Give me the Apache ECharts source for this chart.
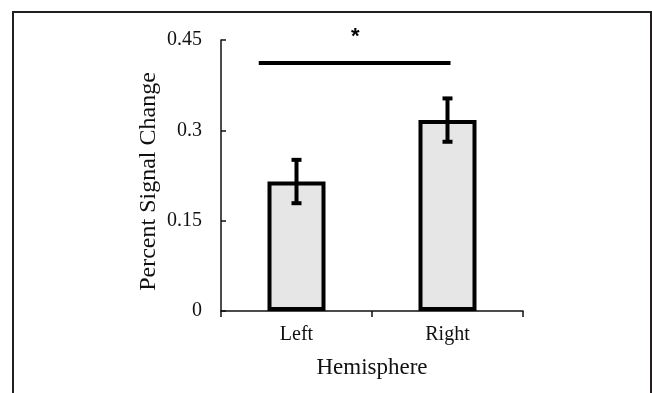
<!DOCTYPE html>
<html>
<head>
<meta charset="utf-8">
<script src="https://cdn.jsdelivr.net/npm/echarts@6/dist/echarts.min.js"></script>
<style>
  html, body { margin: 0; padding: 0; background: #fff; }
  #wrap { position: relative; width: 652px; height: 393px; overflow: hidden; }
  #chart { position: absolute; left: 0; top: 0; width: 652px; height: 393px; }
  #frame { position: absolute; left: 12px; top: 11px; width: 636px; height: 400px;
           border: 2px solid #231f20; border-bottom: none; pointer-events: none; }
</style>
</head>
<body>
<div id="wrap">
  <div id="chart"></div>
  <div id="frame"></div>
</div>
<script>
// data
const categories = ['Left', 'Right'];
const meanValues = [0.215, 0.317];
const errorValues = [0.036, 0.036];
const yTicks = [0, 0.15, 0.3, 0.45];
// significance bracket, in category-band units (0..2) and y value
const sigSpan = [0.25, 1.52];
const sigLevel = 0.412;
const sigMark = '*';
const sigMarkPos = [0.89, 0.455];

const font = '"Liberation Serif", "Times New Roman", serif';
const ink = '#111';

const chart = echarts.init(document.getElementById('chart'), null, { renderer: 'canvas' });

const option = {
  animation: false,
  grid: { left: 221, right: 129, top: 40, bottom: 82 },
  xAxis: [
    {
      type: 'category',
      data: categories,
      name: 'Hemisphere',
      nameLocation: 'middle',
      nameGap: 45,
      nameTextStyle: { fontFamily: font, fontSize: 23, color: ink },
      axisLine: { lineStyle: { color: ink, width: 1.5 } },
      axisTick: { show: true, length: 6, lineStyle: { color: ink, width: 1.5 } },
      axisLabel: { fontFamily: font, fontSize: 20, color: ink, margin: 14 }
    },
    {
      type: 'value',
      min: 0,
      max: 2,
      show: false
    }
  ],
  yAxis: {
    type: 'value',
    min: 0,
    max: 0.45,
    interval: 0.15,
    name: 'Percent Signal Change',
    nameLocation: 'middle',
    nameGap: 60,
    nameTextStyle: { fontFamily: font, fontSize: 24, color: ink, padding: [0, 12, 0, 0] },
    axisLine: { show: true, lineStyle: { color: ink, width: 1.5 } },
    axisTick: { show: true, inside: true, length: 5, lineStyle: { color: ink, width: 1.5 } },
    axisLabel: {
      fontFamily: font, fontSize: 20, color: ink, margin: 19,
      formatter: (v) => {
        const t = yTicks.find((k) => Math.abs(k - v) < 1e-6);
        return String(t !== undefined ? t : v);
      }
    },
    splitLine: { show: false }
  },
  series: [
    {
      type: 'bar',
      data: meanValues,
      barWidth: 58,
      itemStyle: { color: '#e6e6e6', borderColor: '#000', borderWidth: 4 },
      z: 2
    },
    {
      type: 'custom',
      z: 3,
      data: meanValues.map((m, i) => [i, m - errorValues[i], m + errorValues[i]]),
      renderItem: (params, api) => {
        const lo = api.coord([api.value(0), api.value(1)]);
        const hi = api.coord([api.value(0), api.value(2)]);
        const cap = 5;
        const style = { stroke: '#000', lineWidth: 4 };
        return {
          type: 'group',
          children: [
            { type: 'line', shape: { x1: hi[0], y1: hi[1], x2: lo[0], y2: lo[1] }, style },
            { type: 'line', shape: { x1: hi[0] - cap, y1: hi[1], x2: hi[0] + cap, y2: hi[1] }, style },
            { type: 'line', shape: { x1: lo[0] - cap, y1: lo[1], x2: lo[0] + cap, y2: lo[1] }, style }
          ]
        };
      }
    },
    {
      type: 'custom',
      xAxisIndex: 1,
      clip: false,
      z: 4,
      data: [[sigSpan[0], sigSpan[1], sigLevel, sigMarkPos[0], sigMarkPos[1]]],
      renderItem: (params, api) => {
        const a = api.coord([api.value(0), api.value(2)]);
        const b = api.coord([api.value(1), api.value(2)]);
        const m = api.coord([api.value(3), api.value(4)]);
        return {
          type: 'group',
          children: [
            { type: 'line', shape: { x1: a[0], y1: a[1], x2: b[0], y2: b[1] },
              style: { stroke: '#000', lineWidth: 4 } },
            { type: 'text', x: m[0], y: m[1],
              style: { text: sigMark, fill: '#000', font: 'bold 22px "Liberation Sans", Arial, sans-serif',
                       align: 'center', verticalAlign: 'middle' } }
          ]
        };
      }
    }
  ]
};

chart.setOption(option);
</script>
</body>
</html>
